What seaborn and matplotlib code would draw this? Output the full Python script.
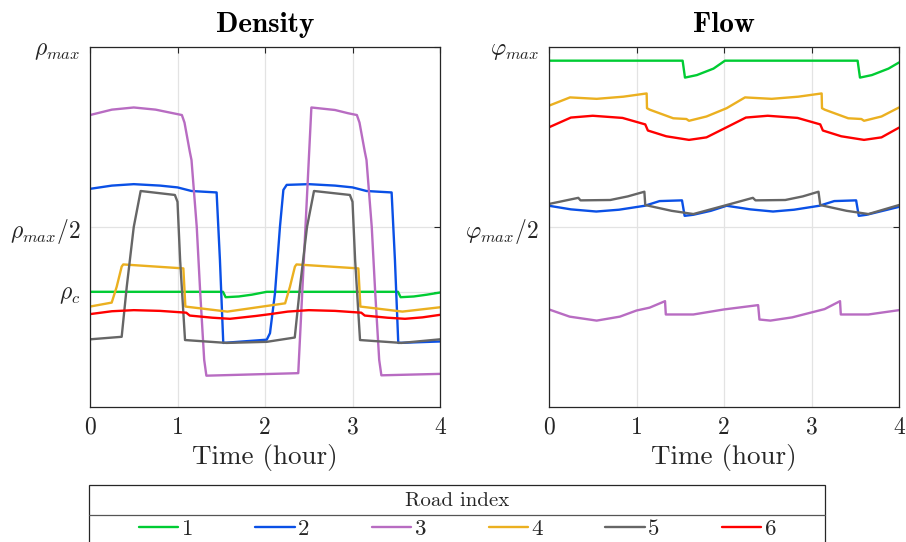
import pandas as pd
import matplotlib
matplotlib.use("Agg")
import matplotlib.pyplot as plt
from matplotlib.lines import Line2D
from matplotlib.patches import Rectangle
import seaborn as sns

# ---- data (time in hours, values as fraction of max) ----
roads = ['1', '2', '3', '4', '5', '6']
road_colors = ['#00cc33', '#0a50e6', '#b86cc2', '#ebb020', '#666666', '#ff0000']

rho_c = 0.32

# Density
dens_t1 = [0, 1.52, 1.55, 1.7, 1.85, 2.02, 3.52, 3.55, 3.7, 3.85, 4.0]
dens_v1 = [0.320, 0.320, 0.305, 0.307, 0.312, 0.320, 0.320, 0.305, 0.307, 0.312, 0.318]

dens_t2 = [0, 0.25, 0.5, 0.8, 1.0, 1.16, 1.3, 1.447, 1.485, 1.523, 2.02, 2.057, 2.114, 2.171,
           2.21, 2.248, 2.5, 2.8, 3.0, 3.16, 3.3, 3.447, 3.485, 3.523, 4.0]
dens_v2 = [0.606, 0.615, 0.619, 0.615, 0.610, 0.600, 0.598, 0.596, 0.408, 0.178, 0.187, 0.205,
           0.316, 0.501, 0.603, 0.617, 0.619, 0.615, 0.610, 0.600, 0.598, 0.596, 0.408, 0.178, 0.182]

dens_t3 = [0, 0.25, 0.5, 0.75, 0.95, 1.05, 1.08, 1.11, 1.14, 1.16, 1.22, 1.26, 1.305, 1.33,
           2.38, 2.53, 2.8, 2.95, 3.05, 3.08, 3.11, 3.14, 3.16, 3.22, 3.26, 3.305, 3.33, 4.0]
dens_v3 = [0.811, 0.826, 0.832, 0.826, 0.816, 0.811, 0.790, 0.750, 0.710, 0.686, 0.500, 0.316,
           0.131, 0.087, 0.094, 0.832, 0.825, 0.816, 0.811, 0.790, 0.750, 0.710, 0.686, 0.500,
           0.316, 0.131, 0.088, 0.092]

dens_t4 = [0, 0.248, 0.305, 0.362, 0.38, 1.067, 1.09, 1.57, 2.23, 2.285, 2.342, 2.36, 3.067,
           3.09, 3.57, 4.0]
dens_v4 = [0.279, 0.290, 0.334, 0.390, 0.396, 0.385, 0.279, 0.265, 0.288, 0.334, 0.390, 0.396,
           0.385, 0.279, 0.265, 0.277]

dens_t5 = [0, 0.362, 0.42, 0.5, 0.579, 0.97, 1.0, 1.03, 1.086, 1.56, 2.02, 2.34, 2.40, 2.48,
           2.56, 2.97, 3.0, 3.03, 3.086, 3.56, 4.0]
dens_v5 = [0.188, 0.195, 0.334, 0.500, 0.600, 0.589, 0.570, 0.408, 0.186, 0.178, 0.181, 0.193,
           0.334, 0.500, 0.600, 0.589, 0.570, 0.408, 0.186, 0.178, 0.188]

dens_t6 = [0, 0.25, 0.5, 0.8, 1.1, 1.14, 1.4, 1.6, 1.9, 2.06, 2.26, 2.5, 2.8, 3.1, 3.14, 3.4,
           3.6, 3.8, 4.0]
dens_v6 = [0.258, 0.266, 0.269, 0.267, 0.262, 0.254, 0.248, 0.245, 0.253, 0.258, 0.265, 0.269,
           0.267, 0.262, 0.254, 0.248, 0.245, 0.249, 0.256]

# Flow
flow_t1 = [0, 1.527, 1.554, 1.69, 1.88, 2.011, 3.527, 3.554, 3.69, 3.88, 4.0]
flow_v1 = [0.962, 0.962, 0.915, 0.922, 0.940, 0.962, 0.962, 0.915, 0.922, 0.940, 0.957]

flow_t2 = [0, 0.25, 0.54, 0.8, 1.095, 1.264, 1.52, 1.55, 1.65, 1.85, 2.03, 2.3, 2.56, 2.8,
           3.09, 3.26, 3.51, 3.54, 3.63, 3.85, 4.0]
flow_v2 = [0.559, 0.549, 0.543, 0.548, 0.559, 0.572, 0.574, 0.531, 0.534, 0.545, 0.559, 0.549,
           0.543, 0.548, 0.559, 0.572, 0.574, 0.531, 0.534, 0.547, 0.556]

flow_t3 = [0, 0.236, 0.545, 0.81, 1.0, 1.15, 1.326, 1.335, 1.65, 2.0, 2.39, 2.405, 2.53, 2.78,
           3.15, 3.326, 3.335, 3.65, 4.0]
flow_v3 = [0.271, 0.251, 0.240, 0.251, 0.268, 0.276, 0.294, 0.257, 0.257, 0.271, 0.283, 0.243,
           0.240, 0.249, 0.272, 0.294, 0.257, 0.257, 0.269]

flow_t4 = [0, 0.24, 0.545, 0.85, 1.116, 1.12, 1.15, 1.42, 1.57, 1.6, 1.8, 2.03, 2.24, 2.545,
           2.85, 3.116, 3.12, 3.15, 3.42, 3.57, 3.6, 3.8, 4.0]
flow_v4 = [0.837, 0.860, 0.856, 0.862, 0.871, 0.830, 0.826, 0.802, 0.800, 0.795, 0.807, 0.830,
           0.860, 0.856, 0.862, 0.871, 0.830, 0.826, 0.802, 0.800, 0.795, 0.807, 0.832]

flow_t5 = [0, 0.335, 0.36, 0.7, 0.9, 1.09, 1.1, 1.4, 1.65, 2.03, 2.33, 2.36, 2.7, 2.9, 3.08,
           3.1, 3.4, 3.65, 4.0]
flow_v5 = [0.564, 0.581, 0.574, 0.575, 0.585, 0.598, 0.561, 0.545, 0.536, 0.561, 0.581, 0.574,
           0.575, 0.585, 0.598, 0.561, 0.545, 0.536, 0.561]

flow_t6 = [0, 0.25, 0.5, 0.84, 1.1, 1.13, 1.34, 1.6, 1.8, 2.03, 2.25, 2.5, 2.84, 3.1, 3.13,
           3.34, 3.6, 3.8, 4.0]
flow_v6 = [0.777, 0.804, 0.809, 0.803, 0.785, 0.768, 0.752, 0.742, 0.749, 0.777, 0.804, 0.809,
           0.803, 0.785, 0.768, 0.752, 0.742, 0.749, 0.776]

time_ticks = [0, 1, 2, 3, 4]
dens_ticks = [rho_c, 0.5, 1.0]
dens_ticklabels = [r'$\rho_c$', r'$\rho_{max}/2$', r'$\rho_{max}$']
flow_ticks = [0.5, 1.0]
flow_ticklabels = [r'$\varphi_{max}/2$', r'$\varphi_{max}$']


def long_frame(ts, vs):
    parts = []
    for road, t, v in zip(roads, ts, vs):
        parts.append(pd.DataFrame({'time': t, 'value': v, 'road': road}))
    return pd.concat(parts, ignore_index=True)


density_df = long_frame([dens_t1, dens_t2, dens_t3, dens_t4, dens_t5, dens_t6],
                        [dens_v1, dens_v2, dens_v3, dens_v4, dens_v5, dens_v6])
flow_df = long_frame([flow_t1, flow_t2, flow_t3, flow_t4, flow_t5, flow_t6],
                     [flow_v1, flow_v2, flow_v3, flow_v4, flow_v5, flow_v6])

# ---- style ----
sns.set_theme(style='white')
plt.rcParams['font.family'] = ['cmr10', 'DejaVu Serif']
plt.rcParams['mathtext.fontset'] = 'cm'
plt.rcParams['axes.formatter.use_mathtext'] = True
plt.rcParams['axes.unicode_minus'] = False

palette = dict(zip(roads, road_colors))
ink = '#262626'

fig = plt.figure(figsize=(9.06, 5.42), dpi=100)
ax_d = fig.add_axes([90 / 906, 1 - 407 / 542, 350 / 906, 360 / 542])
ax_f = fig.add_axes([549 / 906, 1 - 407 / 542, 350 / 906, 360 / 542])

panels = [(ax_d, density_df, 'Density', dens_ticks, dens_ticklabels),
          (ax_f, flow_df, 'Flow', flow_ticks, flow_ticklabels)]

for ax, data, title, yt, ytl in panels:
    sns.lineplot(data=data, x='time', y='value', hue='road', palette=palette,
                 estimator=None, sort=False, linewidth=1.7, legend=False, ax=ax)
    ax.set_xlim(0, 4)
    ax.set_ylim(0, 1)
    ax.set_xticks(time_ticks)
    ax.set_xticklabels([str(t) for t in time_ticks])
    ax.set_yticks(yt)
    ax.set_yticklabels(ytl)
    ax.grid(True, color='#e3e3e3', linewidth=0.9)
    ax.set_axisbelow(True)
    ax.tick_params(direction='in', length=4, width=0.8, color=ink, labelcolor=ink,
                   labelsize=17, top=True, right=True, pad=7)
    for s in ax.spines.values():
        s.set_color(ink)
        s.set_linewidth(0.9)
    ax.set_xlabel('Time (hour)', fontsize=19.5, color=ink, labelpad=4)
    ax.set_ylabel('')
    ax.set_title(title, fontsize=21, fontfamily='cmb10', color='black', pad=11)

# ---- legend box with title row (MATLAB-like) ----
x0, x1 = 89.3 / 906, 825 / 906
top = 1 - 485 / 542
sep = 1 - 515 / 542
fig.add_artist(Rectangle((x0, -0.1), x1 - x0, top + 0.1, transform=fig.transFigure,
                         facecolor='white', edgecolor=ink, linewidth=0.9, zorder=1))
fig.add_artist(Line2D([x0, x1], [sep, sep], transform=fig.transFigure,
                      color='#555555', linewidth=0.9, zorder=2))
fig.text((x0 + x1) / 2, 1 - 505.5 / 542, 'Road index', ha='center', va='baseline',
         fontsize=15, color=ink, zorder=3)

handles = [Line2D([], [], color=c, linewidth=1.7) for c in road_colors]
leg = fig.legend(handles, roads, loc='center', bbox_to_anchor=(457.5 / 906, 1 - 529 / 542),
                 ncol=6, frameon=False, fontsize=16.5, handlelength=1.72, handletextpad=0.15,
                 columnspacing=2.72, borderpad=0)
for txt in leg.get_texts():
    txt.set_color(ink)
leg.set_zorder(4)

fig.savefig('out.png', dpi=100)
